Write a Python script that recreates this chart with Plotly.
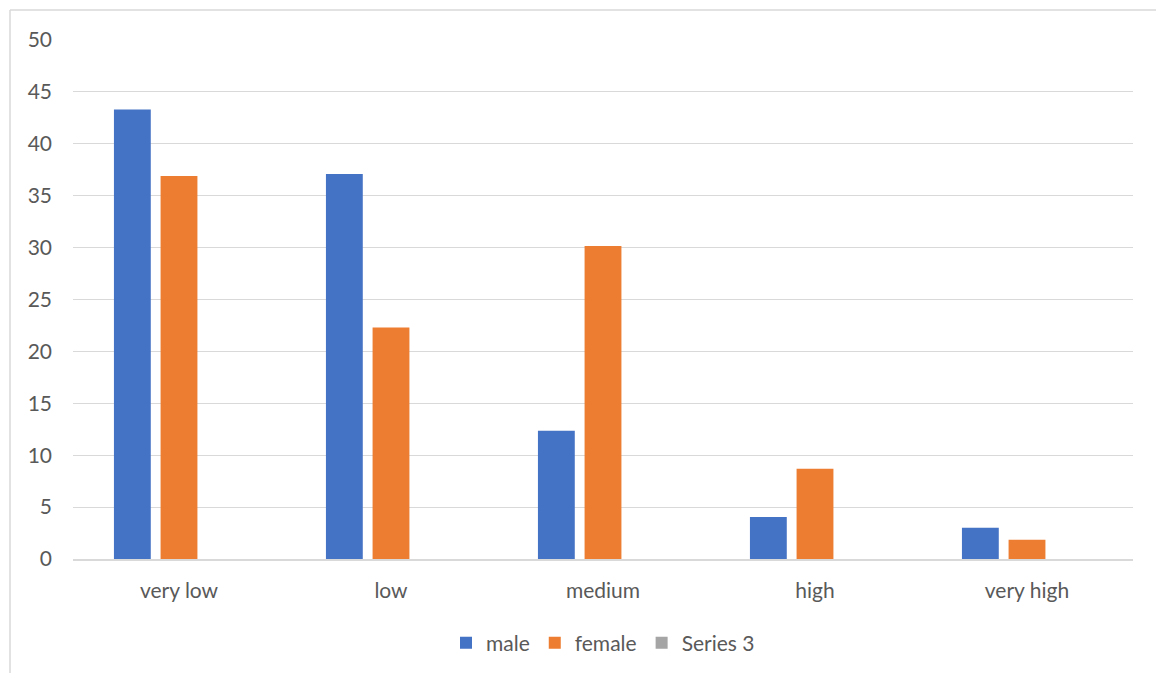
import plotly.graph_objects as go

categories = ["very low", "low", "medium", "high", "very high"]
male = [43.3, 37.1, 12.35, 4.05, 3.0]
female = [36.9, 22.3, 30.15, 8.7, 1.85]
series3 = [None, None, None, None, None]
y_ticks = [0, 5, 10, 15, 20, 25, 30, 35, 40, 45, 50]

W, H = 1156, 673
L, R, T, B = 73, 23, 40, 114
pw, ph = W - L - R, H - T - B

font = dict(family="Lato, 'Open Sans', sans-serif", size=21, color="#595959")

fig = go.Figure()
fig.add_trace(go.Bar(name="male", x=categories, y=male, marker=dict(color="#4472c4", line=dict(width=0))))
fig.add_trace(go.Bar(name="female", x=categories, y=female, marker=dict(color="#ed7d31", line=dict(width=0))))
fig.add_trace(go.Bar(name="Series 3", x=categories, y=series3, marker=dict(color="#a5a5a5", line=dict(width=0))))

fig.update_layout(
    width=W, height=H,
    margin=dict(l=L, r=R, t=T, b=B, autoexpand=False),
    paper_bgcolor="white", plot_bgcolor="white",
    barmode="group", bargap=0.34, bargroupgap=0.21,
    font=font,
    legend=dict(orientation="h", x=0.5, xanchor="center", y=(559 - 643) / ph, yanchor="middle",
                font=font, itemwidth=30, traceorder="normal"),
    xaxis=dict(showgrid=False, showline=True, linecolor="#d9d9d9", linewidth=1.5, automargin=False,
               ticks="", tickfont=font, ticklabelstandoff=12),
    yaxis=dict(range=[0, 50], tickvals=y_ticks, showgrid=True, gridcolor="#d9d9d9", gridwidth=1.3,
               automargin=False, zeroline=False, showline=False, ticks="", tickfont=font,
               ticklabelstandoff=20),
    shapes=[
        dict(type="line", xref="paper", yref="paper", x0=(10 - L) / pw, x1=(W + 20 - L) / pw,
             y0=(559 - 10) / ph, y1=(559 - 10) / ph, line=dict(color="#d9d9d9", width=1.5)),
        dict(type="line", xref="paper", yref="paper", x0=(10 - L) / pw, x1=(10 - L) / pw,
             y0=(559 - 10) / ph, y1=(559 - H - 20) / ph, line=dict(color="#d9d9d9", width=1.5)),
    ],
)

fig.write_html("out.html")
